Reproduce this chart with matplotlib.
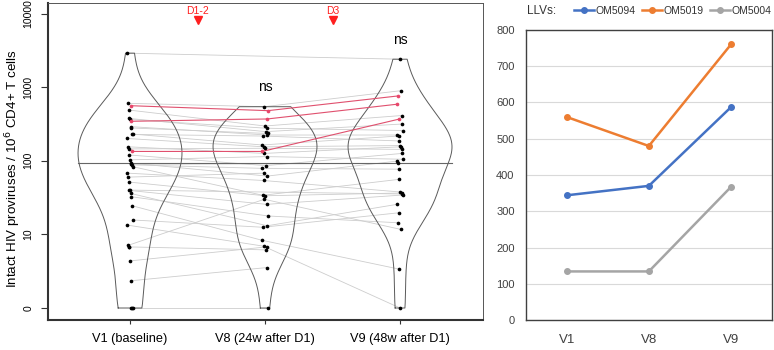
import numpy as np
import matplotlib
matplotlib.use('Agg')
import matplotlib.pyplot as plt

plt.rcParams['font.family'] = ['Liberation Sans', 'DejaVu Sans']

nan = np.nan

# ---------------- data ----------------
visits = ['V1 (baseline)', 'V8 (24w after D1)', 'V9 (48w after D1)']

# per-participant intact proviruses (non-LLV participants); nan = missing visit
v1 = [2900, 604, 490, 376, 364, 291, 279, 231, 228, 201, 155, 145, 120, 103, 93, 90,
      88, 83, 68, 60, 51.5, 40, 39.5, 36, 32.5, 24.5, 15.7, 13.4, 8.5, 8.3, 8.3,
      6.4, 3.7, 0, 0, 0]
v8 = [nan, 543, 297, 249, 277, 224, 235, 164, 217, 155, 126, 148, 86, 114, 62, nan,
      79, 34, 54, 68, 33.5, nan, 25.6, 13.1, 17.8, 9.2, 12.5, 8.4, 30, nan, 7.9,
      8.3, 5.5, 0, nan, nan]
v9 = [2400, 896, 412, 316, 258, 224, nan, 217, 186, 161, 155, 143, 126, 105, 99, 92,
      77, 56, 37.7, nan, 36.5, 35.4, 34.3, 25.6, 14.4, 5.3, 19.7, 0, 11.7, nan, nan,
      nan, nan, nan, nan, nan]

# low-level viremia (LLV) participants
llv_names = ['OM5094', 'OM5019', 'OM5004']
llv_v1 = [344, 560, 134]
llv_v8 = [370, 480, 134]
llv_v9 = [587, 760, 367]
llv_colors = ['#4472C4', '#ED7D31', '#A5A5A5']
short_visits = ['V1', 'V8', 'V9']

ref_line = 93
dose_labels = ['D1-2', 'D3']
ns_labels = ['ns', 'ns']

# ---------------- figure ----------------
fig = plt.figure(figsize=(7.74, 3.5), dpi=100)
ax = fig.add_axes([0.0614, 0.0857, 0.562, 0.9066])
ax.set_yscale('symlog', linthresh=10, linscale=0.9)
ax.set_ylim(-1.63, 14060)
ax.set_xlim(0.389, 3.611)

def jit(i, k):
    return (((i * 37 + k * 11) % 9) - 4) * 0.0055

def to_t(v):
    v = np.asarray(v, float)
    return np.where(v <= 10, v / 10.0, np.log10(np.maximum(v, 1e-9)))

def from_t(t):
    return np.where(t <= 1, 10 * t, 10 ** t)

all_vals = [np.array(v1 + llv_v1, float), np.array(v8 + llv_v8, float),
            np.array(v9 + llv_v9, float)]

# connecting lines (grey)
for i in range(len(v1)):
    vals = [v1[i], v8[i], v9[i]]
    xs = [1 + jit(i, 0), 2 + jit(i, 1), 3 + jit(i, 2)]
    pts = [(x, y) for x, y in zip(xs, vals) if not np.isnan(y)]
    if len(pts) > 1:
        ax.plot([p[0] for p in pts], [p[1] for p in pts], color='#cdcdcd', lw=0.6, zorder=1)

# violins
half_w = 0.385
for k, vals in enumerate(all_vals):
    vals = vals[~np.isnan(vals)]
    t = to_t(vals)
    n = len(t)
    sd = t.std(ddof=1)
    iqr = np.subtract(*np.percentile(t, [75, 25]))
    bw = 0.9 * min(sd, iqr / 1.34) * n ** -0.2
    grid = np.linspace(t.min(), t.max(), 300)
    dens = np.exp(-0.5 * ((grid[:, None] - t[None, :]) / bw) ** 2).sum(axis=1)
    w = dens / dens.max() * half_w
    yv = from_t(grid)
    pos = k + 1
    xs = np.r_[pos - w, (pos + w)[::-1], pos - w[0]]
    ys = np.r_[yv, yv[::-1], yv[0]]
    ax.plot(xs, ys, color='#5a5a5a', lw=0.7, zorder=2)

ax.plot([1 - half_w, 3 + half_w], [ref_line, ref_line], color='#666666', lw=0.8, zorder=2)

# LLV lines (red)
for j in range(len(llv_names)):
    xs = [1 + jit(50 + j, 0), 2 + jit(50 + j, 1), 3 + jit(50 + j, 2)]
    ax.plot(xs, [llv_v1[j], llv_v8[j], llv_v9[j]], color='#e0506e', lw=0.8, zorder=3)

# dots
for k, arr in enumerate([v1, v8, v9]):
    for i, y in enumerate(arr):
        if not np.isnan(y):
            ax.scatter(k + 1 + jit(i, k), y, s=7, color='black', zorder=4, linewidths=0)
for j, vals in enumerate(zip(llv_v1, llv_v8, llv_v9)):
    for k, y in enumerate(vals):
        ax.scatter(k + 1 + jit(50 + j, k), y, s=7, color='#e8476b', zorder=5, linewidths=0)

# annotations
trans = ax.get_xaxis_transform()
for x, lab in zip([1.5, 2.5], dose_labels):
    ax.text(x, 0.974, lab, transform=trans, ha='center', va='center', color='#ff1f1f', fontsize=7.5)
    ax.plot([x], [0.945], marker='v', color='#ff1f1f', markersize=6, transform=trans,
            clip_on=False, linestyle='none')
ax.text(2, 0.734, ns_labels[0], transform=trans, ha='center', va='center', fontsize=10)
ax.text(3, 0.882, ns_labels[1], transform=trans, ha='center', va='center', fontsize=10)

ax.set_xticks([1, 2, 3])
ax.set_xticklabels(visits, fontsize=9.2)
ax.set_yticks([0, 10, 100, 1000, 10000])
ax.set_yticklabels(['0', '10', '100', '1000', '10000'], fontsize=7.5, rotation=90, va='center')
ax.yaxis.set_minor_locator(matplotlib.ticker.NullLocator())
ax.tick_params(axis='x', length=3, width=0.8, color='#333333', pad=6)
ax.tick_params(axis='y', length=5, width=0.8, color='#333333', pad=5)
ax.set_ylabel('Intact HIV proviruses / 10$^6$ CD4+ T cells', fontsize=9.6)
ax.yaxis.label.set_va('center')
ax.yaxis.set_label_coords(-0.079, 0.477)
for s in ['left', 'bottom']:
    ax.spines[s].set_linewidth(1.5)
    ax.spines[s].set_color('#333333')
for s in ['top', 'right']:
    ax.spines[s].set_linewidth(0.7)
    ax.spines[s].set_color('#555555')

# ---------------- right panel ----------------
ax2 = fig.add_axes([0.6792, 0.0857, 0.3182, 0.8286])
xpos = np.arange(len(short_visits))
handles = []
for j, name in enumerate(llv_names):
    h, = ax2.plot(xpos, [llv_v1[j], llv_v8[j], llv_v9[j]], color=llv_colors[j], lw=1.8,
                  marker='o', markersize=4, label=name, zorder=3)
    handles.append(h)
ax2.set_xlim(-0.5, 2.5)
ax2.set_ylim(0, 800)
ax2.set_yticks(range(0, 801, 100))
ax2.set_xticks(xpos)
ax2.set_xticklabels(short_visits, fontsize=9.5)
ax2.tick_params(axis='both', length=0, labelcolor='#404040')
ax2.tick_params(axis='y', labelsize=8, pad=8)
ax2.tick_params(axis='x', pad=10)
ax2.grid(axis='y', color='#d9d9d9', lw=0.8)
ax2.set_axisbelow(True)
for s in ax2.spines.values():
    s.set_color('#404040')
    s.set_linewidth(1.0)

fig.text(0.681, 0.969, 'LLVs:', fontsize=8.5, va='center', ha='left', color='#333333')
leg = fig.legend(handles=handles, loc='center right', bbox_to_anchor=(0.997, 0.969), ncol=3,
                 frameon=False, fontsize=7.5, handlelength=1.9, handletextpad=0.15,
                 columnspacing=0.65, borderaxespad=0, borderpad=0)
for t in leg.get_texts():
    t.set_color('#333333')

fig.savefig('out.png', dpi=100)
